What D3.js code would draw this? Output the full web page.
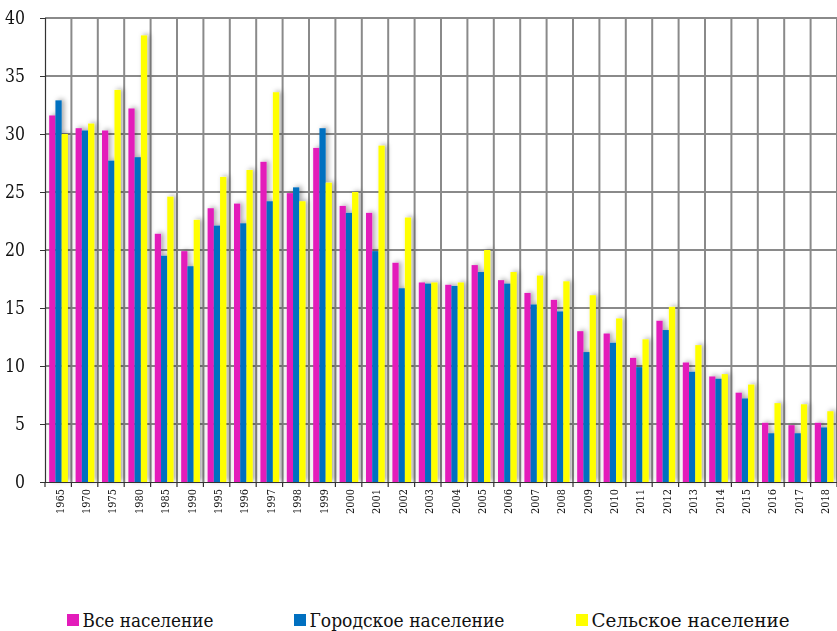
<!DOCTYPE html>
<html>
<head>
<meta charset="utf-8">
<script src="https://cdn.jsdelivr.net/npm/d3@7"></script>
<style>
  html, body { margin: 0; padding: 0; background: #fff; }
  svg { display: block; }
  .serif { font-family: "DejaVu Serif", serif; }
</style>
</head>
<body>
<svg id="chart" width="837" height="631"></svg>
<script>
const categories = ["1965","1970","1975","1980","1985","1990","1995","1996","1997","1998","1999","2000","2001","2002","2003","2004","2005","2006","2007","2008","2009","2010","2011","2012","2013","2014","2015","2016","2017","2018"];
const seriesNames = ["Все население", "Городское население", "Сельское население"];
const allPop   = [31.6,30.5,30.3,32.2,21.4,19.9,23.6,24.0,27.6,24.9,28.8,23.8,23.2,18.9,17.2,17.0,18.7,17.4,16.3,15.7,13.0,12.8,10.7,13.9,10.3,9.1,7.7,5.1,4.9,5.1];
const urbanPop = [32.9,30.3,27.7,28.0,19.5,18.6,22.1,22.3,24.2,25.4,30.5,23.2,19.9,16.7,17.1,16.9,18.1,17.1,15.3,14.7,11.2,12.0,9.9,13.1,9.5,8.9,7.2,4.2,4.2,4.7];
const ruralPop = [30.0,30.9,33.8,38.5,24.6,22.6,26.3,26.9,33.6,24.2,25.8,25.0,29.0,22.8,17.2,17.2,20.0,18.1,17.8,17.3,16.1,14.1,12.3,15.1,11.8,9.3,8.4,6.8,6.7,6.1];
const yTicks = [0,5,10,15,20,25,30,35,40];
const colors = ["#E31CBA", "#0070C0", "#FFFF00"];

const series = [allPop, urbanPop, ruralPop];
const svg = d3.select("#chart");
const mLeft = 45, mRight = 837, mTop = 18, mBottom = 482;

const x = d3.scaleBand().domain(categories).range([mLeft, mRight]).padding(0);
const x1 = d3.scaleBand().domain(d3.range(3)).range([4.2, 22.9]).padding(0);
const y = d3.scaleLinear().domain([0, 40]).range([mBottom, mTop]);

const defs = svg.append("defs");
const f = defs.append("filter").attr("id", "shadow").attr("x", "-50%").attr("y", "-10%").attr("width", "200%").attr("height", "120%");
f.append("feDropShadow").attr("dx", 2.5).attr("dy", -1).attr("stdDeviation", 2.5)
  .attr("flood-color", "#000").attr("flood-opacity", 0.35);

svg.append("g").selectAll("line").data(yTicks.filter(d => d > 0)).join("line")
  .attr("x1", mLeft).attr("x2", mRight)
  .attr("y1", d => y(d)).attr("y2", d => y(d))
  .attr("stroke", "#8a8a8a").attr("stroke-width", 2);

svg.append("g").selectAll("line").data(d3.range(1, categories.length + 1)).join("line")
  .attr("x1", i => mLeft + i * x.bandwidth())
  .attr("x2", i => mLeft + i * x.bandwidth())
  .attr("y1", mTop).attr("y2", mBottom)
  .attr("stroke", "#8a8a8a").attr("stroke-width", 2);

const barsG = svg.append("g").attr("filter", "url(#shadow)");
const groups = barsG.selectAll("g").data(categories).join("g")
  .attr("transform", d => `translate(${x(d)},0)`);
groups.selectAll("rect").data((d, i) => series.map((s, k) => ({k, v: s[i]}))).join("rect")
  .attr("x", d => x1(d.k)).attr("width", x1.bandwidth())
  .attr("y", d => y(d.v)).attr("height", d => y(0) - y(d.v))
  .attr("fill", d => colors[d.k]);

const yAxis = d3.axisLeft(y).tickValues(yTicks).tickSize(5).tickPadding(15).tickFormat(d3.format("d"));
const ya = svg.append("g").attr("transform", `translate(${mLeft},0)`).call(yAxis);
ya.attr("font-family", null).attr("font-size", 18).attr("class", "serif");
ya.select(".domain").attr("stroke", "#333").attr("stroke-width", 1.2);
ya.selectAll(".tick line").attr("stroke", "#333");
ya.selectAll("text").attr("fill", "#111")
  .attr("textLength", d => String(d).length * 10).attr("lengthAdjust", "spacingAndGlyphs");

const xAxis = d3.axisBottom(x).tickSize(0).tickSizeOuter(0);
const xa = svg.append("g").attr("transform", `translate(0,${mBottom})`).call(xAxis);
xa.attr("font-family", null).attr("font-size", 11).attr("class", "serif");
xa.select(".domain").attr("stroke", "#333").attr("stroke-width", 1.2);
xa.selectAll("text")
  .attr("fill", "#111")
  .attr("text-anchor", "end").attr("transform", "rotate(-90)")
  .attr("x", -7).attr("y", 1.5).attr("dy", "0.35em")
  .attr("textLength", 25).attr("lengthAdjust", "spacingAndGlyphs");
svg.append("g").selectAll("line").data(d3.range(categories.length + 1)).join("line")
  .attr("x1", i => mLeft + i * x.bandwidth()).attr("x2", i => mLeft + i * x.bandwidth())
  .attr("y1", mBottom).attr("y2", mBottom + 5)
  .attr("stroke", "#333").attr("stroke-width", 1.2);

const legendX = [67, 294, 576];
const legendW = [131, 195, 198];
const lg = svg.append("g").attr("class", "serif").attr("font-size", 18)
  .selectAll("g").data(seriesNames).join("g")
  .attr("transform", (d, i) => `translate(${legendX[i]},614)`);
lg.append("rect").attr("width", 12).attr("height", 12).attr("fill", (d, i) => colors[i]);
lg.append("text").attr("x", 15.5).attr("y", 12.5).attr("fill", "#111")
  .attr("textLength", (d, i) => legendW[i]).attr("lengthAdjust", "spacingAndGlyphs")
  .text(d => d);
</script>
</body>
</html>
